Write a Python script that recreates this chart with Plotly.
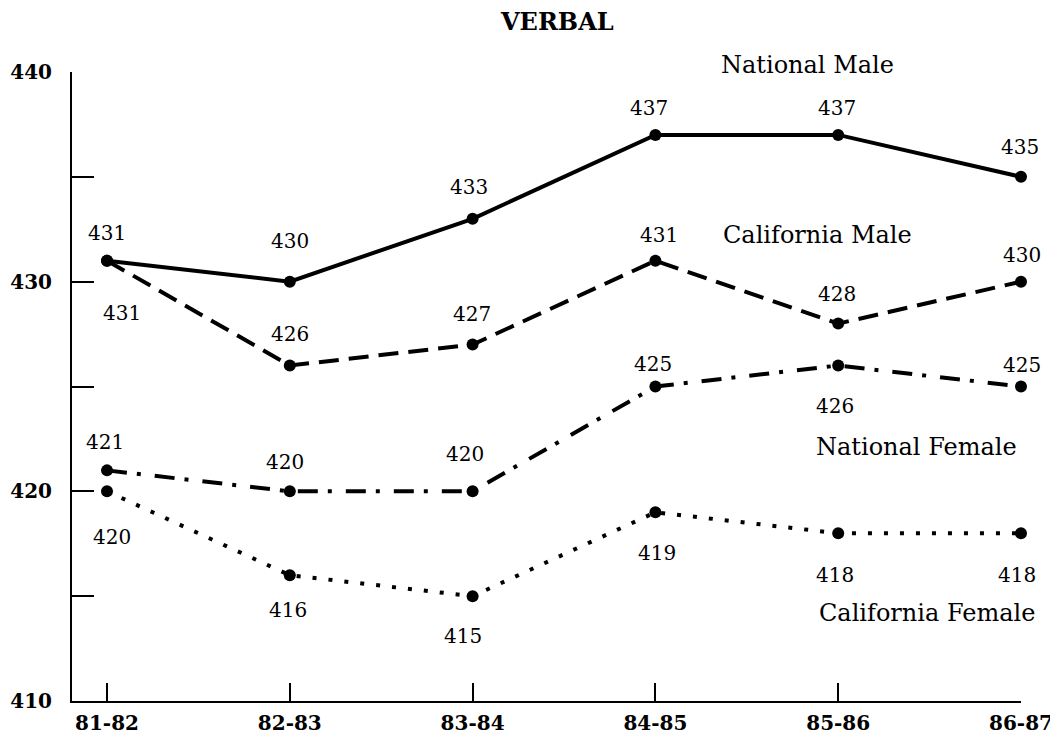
import plotly.graph_objects as go

# ---- data ----
years = ["81-82", "82-83", "83-84", "84-85", "85-86", "86-87"]
national_male = [431, 430, 433, 437, 437, 435]
california_male = [431, 426, 427, 431, 428, 430]
national_female = [421, 420, 420, 425, 426, 425]
california_female = [420, 416, 415, 419, 418, 418]
series_names = ["National Male", "California Male", "National Female", "California Female"]
y_tick_values = [410, 415, 420, 425, 430, 435, 440]
y_tick_labels = ["410", "", "420", "", "430", "", "440"]
title_text = "VERBAL"

# ---- styles ----
SERIF = "DejaVu Serif"
series = [national_male, california_male, national_female, california_female]
dashes = ["solid", "20px,10px", "20px,10px,4px,14px", "4px,12px"]
# label pixel offsets (xshift, yshift) per point
label_offsets = [
    [(0, 28), (0, 41), (-4, 32), (-6, 27), (-1, 27), (-1, 30)],
    [(15, -52), (0, 32), (-1, 31), (4, 26), (-1, 30), (1, 27)],
    [(-2, 28), (-5, 29), (-8, 37), (-2, 23), (-3, -40), (1, 22)],
    [(5, -46), (-2, -35), (-10, -40), (2, -41), (-3, -42), (-4, -42)],
]
name_pos = [(0.7745, 1.011), (0.786, 0.741), (0.8904, 0.404), (0.901, 0.140)]

fig = go.Figure()
for vals, name, dash in zip(series, series_names, dashes):
    fig.add_trace(go.Scatter(
        x=years, y=vals, name=name, mode="lines+markers",
        line=dict(color="black", width=4, dash=dash),
        marker=dict(color="black", size=12),
        cliponaxis=False, showlegend=False,
    ))

annotations = []
for vals, offs in zip(series, label_offsets):
    for xv, yv, (dx, dy) in zip(years, vals, offs):
        annotations.append(dict(
            x=xv, y=yv, xref="x", yref="y", text=str(yv), showarrow=False,
            xshift=dx, yshift=dy, xanchor="center", yanchor="middle",
            font=dict(family=SERIF, size=20, color="black"),
        ))
for name, (px, py) in zip(series_names, name_pos):
    annotations.append(dict(
        x=px, y=py, xref="paper", yref="paper", text=name, showarrow=False,
        xanchor="center", yanchor="middle",
        font=dict(family=SERIF, size=24, color="black"),
    ))
annotations.append(dict(
    x=0.511, y=1.0795, xref="paper", yref="paper", text=title_text, showarrow=False,
    xanchor="center", yanchor="middle",
    font=dict(family=SERIF, size=24, color="black", weight="bold"),
))

# page adds an 8px offset on both sides, so size and top/left margins are reduced by 8px
fig.update_layout(
    width=1050, height=746,
    margin=dict(l=64, r=37, t=64, b=53),
    paper_bgcolor="white", plot_bgcolor="white",
    annotations=annotations,
    xaxis=dict(
        type="category", range=[-0.1915, 5.0], automargin=False,
        showline=True, linecolor="black", linewidth=2,
        ticks="inside", ticklen=18, tickwidth=2, tickcolor="black",
        showgrid=False, zeroline=False, ticklabelstandoff=3,
        tickfont=dict(family=SERIF, size=20, color="black", weight="bold"),
    ),
    yaxis=dict(
        range=[410, 440], tickvals=y_tick_values, ticktext=y_tick_labels,
        automargin=False,
        showline=True, linecolor="black", linewidth=2,
        ticks="inside", ticklen=22, tickwidth=2, tickcolor="black",
        showgrid=False, zeroline=False, ticklabelstandoff=14,
        tickfont=dict(family=SERIF, size=20, color="black", weight="bold"),
    ),
)

fig.write_html("out.html")
